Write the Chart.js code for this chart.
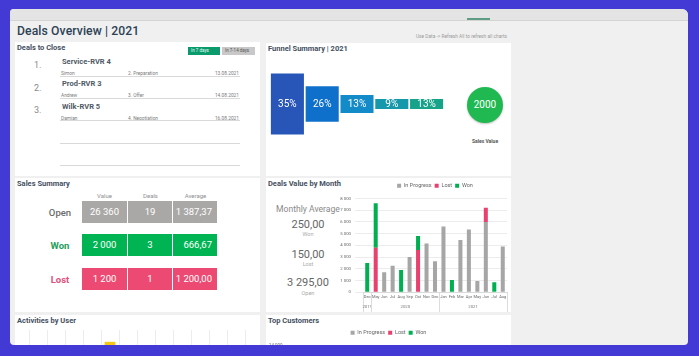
<!DOCTYPE html>
<html><head><meta charset="utf-8">
<script src="https://cdn.jsdelivr.net/npm/chart.js@4.4.1/dist/chart.umd.min.js"></script>
<style>
html,body{margin:0;padding:0;width:699px;height:356px;overflow:hidden;background:#433ad5;font-family:Roboto,"Noto Sans",sans-serif;}
#panel{position:absolute;left:10px;top:9px;width:678px;height:336px;background:#f0f0f0;border-radius:4px 6px 4px 4px;overflow:hidden;}
#topbar{position:absolute;left:0;top:0;width:678px;height:11px;background:#e4e4e4;border-bottom:1px solid #d4d4d4;}
#tabline{position:absolute;left:457px;top:9px;width:23px;height:2px;background:#5f9c84;}
.abs{position:absolute;white-space:nowrap;}
.card{position:absolute;background:#fff;overflow:hidden;}
.ctitle{position:absolute;left:2px;top:1px;font-size:7.5px;font-weight:700;color:#44505f;}
.txt{position:absolute;white-space:nowrap;transform:translateY(-50%);}
.cell{position:absolute;height:22px;line-height:22px;color:#fff;font-size:9.5px;text-align:center;}
canvas{position:absolute;}
</style></head>
<body>
<div id="panel">
  <div id="topbar"></div><div id="tabline"></div>
  <div class="txt" style="left:7px;top:22px;font-size:12.2px;font-weight:500;color:#2c4256;letter-spacing:0.1px;">Deals Overview | 2021</div>
  <div class="txt" style="left:406px;top:27px;font-size:4.8px;color:#9a9a9a;">Use Data -&gt; Refresh All to refresh all charts</div>
</div>

<script>
// ---------- data ----------
const dealNames = ['Service-RVR 4','Prod-RVR 3','Wilk-RVR 5'];
const dealOwners = ['Simon','Andrew','Damian'];
const dealStages = ['2. Preparation','3. Offer','4. Negotiation'];
const dealDates = ['13.08.2021','14.08.2021','16.08.2021'];

const funnelStages = ['1. Lead','2. Preparation','3. Offer','4. Negotiation','5. Win'];
const funnelDeals = [24,14,7,4,4];
const funnelPct = ['35%','26%','13%','9%','13%'];
const salesValue = 2000;

const summaryRows = ['Open','Won','Lost'];
const summaryValue = ['26 360','2 000','1 200'];
const summaryDeals = ['19','3','1'];
const summaryAvg = ['1 387,37','666,67','1 200,00'];

const avgWon = '250,00', avgLost = '150,00', avgOpen = '3 295,00';
const months = ['Dec','May','Jun','Jul','Aug','Sep','Oct','Nov','Dec','Jan','Feb','Mar','Apr','May','Jun','Jul','Aug'];
const yearLabels = ['2019','2020','2021'];
const yearCounts = [1,8,8];
const inProgress = [0,0,1700,2250,0,3000,0,4150,2650,5600,0,4450,5350,950,6000,0,3900];
const lost =       [0,3800,0,0,0,0,3600,0,0,0,0,0,0,0,1200,0,0];
const won =        [2500,3800,0,0,1900,0,1200,0,0,0,1050,0,0,0,0,850,0];

const activityUsers = ['U1','U2','U3','U4','U5','U6','U7','U8','U9','U10','U11','U12'];
const activityCounts = [0,0,0,0,8,0,0,0,0,0,0,0];

const customerNames = [];
const customerInProgress = [];
const customerLost = [];
const customerWon = [];

// ---------- layout helpers ----------
const panel = document.getElementById('panel');
function el(parent, cls, style, html){const d=document.createElement('div');if(cls)d.className=cls;d.style.cssText=style;if(html!==undefined)d.innerHTML=html;parent.appendChild(d);return d;}
function card(x,y,w,h,title){const c=el(panel,'card',`left:${x-10}px;top:${y-9}px;width:${w}px;height:${h}px;`);el(c,'ctitle','',title);return c;}

// Deals to close
const c1 = card(15,42,245,134,'Deals to Close');
el(c1,'abs','left:173px;top:5px;width:32px;height:8px;background:#0b9a6c;color:#e6fff5;font-size:4.5px;line-height:8px;padding-left:3px;box-sizing:border-box;','In 7 days');
el(c1,'abs','left:207px;top:5px;width:33px;height:8px;background:#c8c8c8;color:#555;font-size:4.5px;line-height:8px;padding-left:3px;box-sizing:border-box;','In 7-14 days');
const rowName=[19,41,64], rowDet=[31,53,76], rowNum=[23,46,68];
for(let i=0;i<3;i++){
  el(c1,'txt',`left:19px;top:${rowNum[i]}px;font-size:9px;color:#8a8a8a;`,(i+1)+'.');
  el(c1,'txt',`left:47px;top:${rowName[i]}px;font-size:7.5px;font-weight:700;color:#4f5a66;`,dealNames[i]);
  el(c1,'txt',`left:46px;top:${rowDet[i]}px;font-size:4.8px;color:#7a7a7a;`,dealOwners[i]);
  el(c1,'txt',`left:113px;top:${rowDet[i]}px;font-size:4.8px;color:#7a7a7a;`,dealStages[i]);
  el(c1,'txt',`left:170px;width:54px;text-align:right;top:${rowDet[i]}px;font-size:4.8px;color:#7a7a7a;`,dealDates[i]);
}
[34,56,78,101,123].forEach(y=>el(c1,'abs',`left:45px;top:${y}px;width:180px;height:1px;background:#d9d9d9;`));

// Funnel
const c2 = card(266,43,245,133,'Funnel Summary | 2021');
el(c2,'abs',`left:201px;top:44px;width:36px;height:36px;border-radius:50%;background:#1fb851;box-shadow:0 1px 2px rgba(0,0,0,0.25);color:#fff;font-size:10px;line-height:36px;text-align:center;`,String(salesValue));
el(c2,'txt','left:200px;width:38px;text-align:center;top:98px;font-size:5px;font-weight:700;color:#555;','Sales Value');

// Sales summary
const c3 = card(15,178,245,134,'Sales Summary');
['Value','Deals','Average'].forEach((h,i)=>el(c3,'txt',`left:${[67,113,158][i]}px;width:45px;text-align:center;top:17px;font-size:6px;color:#8f8f8f;`,h));
const rowTop=[23,56,90], lblColor=['#6b6b6b','#1f9e5a','#e0507a'], cellColor=['#aaa8a6','#00b453','#ec4a72'];
for(let i=0;i<3;i++){
  el(c3,'txt',`left:25px;width:40px;text-align:center;top:${rowTop[i]+11}px;font-size:9.5px;font-weight:${i?700:500};color:${lblColor[i]};`,summaryRows[i]);
  el(c3,'cell',`left:67px;top:${rowTop[i]}px;width:45px;background:${cellColor[i]};`,summaryValue[i]);
  el(c3,'cell',`left:113px;top:${rowTop[i]}px;width:44px;background:${cellColor[i]};`,summaryDeals[i]);
  el(c3,'cell',`left:158px;top:${rowTop[i]}px;width:44px;background:${cellColor[i]};text-align:right;padding-right:5px;box-sizing:border-box;`,summaryAvg[i]);
}

// Deals value by month
const c4 = card(266,178,245,134,'Deals Value by Month');
el(c4,'txt','left:2px;width:80px;text-align:center;top:31px;font-size:8.6px;color:#8a8a8a;','Monthly Average');
[[avgWon,'Won',46,56],[avgLost,'Lost',76,86],[avgOpen,'Open',104,115]].forEach(a=>{
  el(c4,'txt',`left:2px;width:80px;text-align:center;top:${a[2]}px;font-size:11px;color:#666;`,a[0]);
  el(c4,'txt',`left:2px;width:80px;text-align:center;top:${a[3]}px;font-size:5.5px;color:#aaa;`,a[1]);
});

// Activities & customers
const c5 = card(15,315,245,40,'Activities by User');
const c6 = card(266,315,245,40,'Top Customers');

function canvasIn(parent,x,y,w,h){const cv=document.createElement('canvas');cv.width=w;cv.height=h;cv.style.cssText=`left:${x}px;top:${y}px;width:${w}px;height:${h}px;`;parent.appendChild(cv);return cv;}

Chart.defaults.font.family = 'Roboto';
Chart.defaults.animation = false;
Chart.defaults.responsive = false;

// Funnel chart
const funnelColors = ['#2755b8','#0f70cc','#138bc9','#1698ab','#17a28a'];
const pctPlugin = {id:'pct',afterDatasetsDraw(ch){const ctx=ch.ctx;const m=ch.getDatasetMeta(0);ctx.save();ctx.fillStyle='#fff';ctx.font='10px Roboto';ctx.textAlign='center';ctx.textBaseline='middle';m.data.forEach((b,i)=>ctx.fillText(funnelPct[i],b.x,(b.y+b.base)/2));ctx.restore();}};
new Chart(canvasIn(c2,0,19,178,85),{type:'bar',
  data:{labels:funnelStages,datasets:[{data:funnelDeals.map(v=>[-v/2,v/2]),backgroundColor:funnelColors,borderWidth:0,barPercentage:0.95,categoryPercentage:1}]},
  options:{layout:{padding:{left:4,top:8,right:0,bottom:0}},plugins:{legend:{display:false},tooltip:{enabled:false}},
    scales:{y:{display:false,min:-13.4,max:13.4},x:{grid:{display:false},border:{display:false},ticks:{font:{size:5.5},color:'#777',padding:1},afterFit(s){s.height=9;}}}},
  plugins:[pctPlugin]});

// Deals value by month chart
const centerLegend = {id:'centerLegend',afterLayout(ch){if(ch.legend){ch.legend.left=ch.chartArea.left;ch.legend.right=ch.chartArea.right;}}};
const yearPlugin = {id:'years',afterDraw(ch){const xs=ch.scales.x,ctx=ch.ctx;const sp=xs.width/months.length;ctx.save();ctx.strokeStyle='#dcdcdc';ctx.lineWidth=1;ctx.fillStyle='#777';ctx.font='4.3px Roboto';ctx.textAlign='center';ctx.textBaseline='middle';
  let idx=0;const top=xs.top,bot=xs.bottom+10;
  const line=x=>{ctx.beginPath();ctx.moveTo(Math.round(x)+0.5,top);ctx.lineTo(Math.round(x)+0.5,bot);ctx.stroke();};
  line(xs.getPixelForValue(0)-sp/2);
  yearLabels.forEach((y,g)=>{const a=xs.getPixelForValue(idx)-sp/2,b=xs.getPixelForValue(idx+yearCounts[g]-1)+sp/2;ctx.fillText(y,(a+b)/2,xs.bottom+5);line(b);idx+=yearCounts[g];});
  ctx.restore();}};
new Chart(canvasIn(c4,72,2,173,132),{type:'bar',
  data:{labels:months,datasets:[
    {label:'In Progress',data:inProgress,backgroundColor:'#a6a6a6'},
    {label:'Lost',data:lost,backgroundColor:'#e8416f'},
    {label:'Won',data:won,backgroundColor:'#00b050'}]},
  options:{layout:{padding:{left:0,right:4,top:0,bottom:10}},
    datasets:{bar:{barPercentage:0.5,categoryPercentage:0.95}},
    plugins:{tooltip:{enabled:false},legend:{position:'top',labels:{font:{size:5.5},color:'#666',boxWidth:4,boxHeight:4,padding:3}}},
    scales:{x:{stacked:true,grid:{display:false,drawTicks:false},border:{color:'#d9d9d9'},ticks:{font:{size:4},color:'#666',padding:2.5,maxRotation:0,minRotation:0,autoSkip:false}},
      y:{stacked:true,min:0,max:8000,ticks:{stepSize:1000,font:{size:4.3},color:'#666',padding:4,callback:v=>String(v).replace(/\B(?=(\d{3})+(?!\d))/g,' ')},grid:{color:'#ececec'},border:{display:false},afterFit(s){s.width=25;}}}},
  plugins:[centerLegend,yearPlugin]});

// Activities chart (mostly cut off)
new Chart(canvasIn(c5,0,12,245,70),{type:'bar',
  data:{labels:activityUsers,datasets:[{data:activityCounts,backgroundColor:'#f5c518',barPercentage:0.6,categoryPercentage:1}]},
  options:{layout:{padding:{left:14,right:15,top:3}},plugins:{legend:{display:false},tooltip:{enabled:false}},
    scales:{x:{ticks:{display:false},grid:{color:'#ececec',offset:true},border:{display:false}},y:{display:false,min:0,max:10}}}});

// Top customers chart (mostly cut off)
new Chart(canvasIn(c6,0,12,245,80),{type:'bar',
  data:{labels:customerNames,datasets:[
    {label:'In Progress',data:customerInProgress,backgroundColor:'#a6a6a6'},
    {label:'Lost',data:customerLost,backgroundColor:'#e8416f'},
    {label:'Won',data:customerWon,backgroundColor:'#00b050'}]},
  options:{plugins:{tooltip:{enabled:false},legend:{labels:{font:{size:5.5},color:'#666',boxWidth:4,boxHeight:4,padding:3}}},
    scales:{x:{stacked:true,display:false},y:{stacked:true,min:0,max:14000,ticks:{stepSize:14000,font:{size:4.5},color:'#777'},grid:{color:'#ececec'},border:{display:false}}}}});
</script>
</body></html>
